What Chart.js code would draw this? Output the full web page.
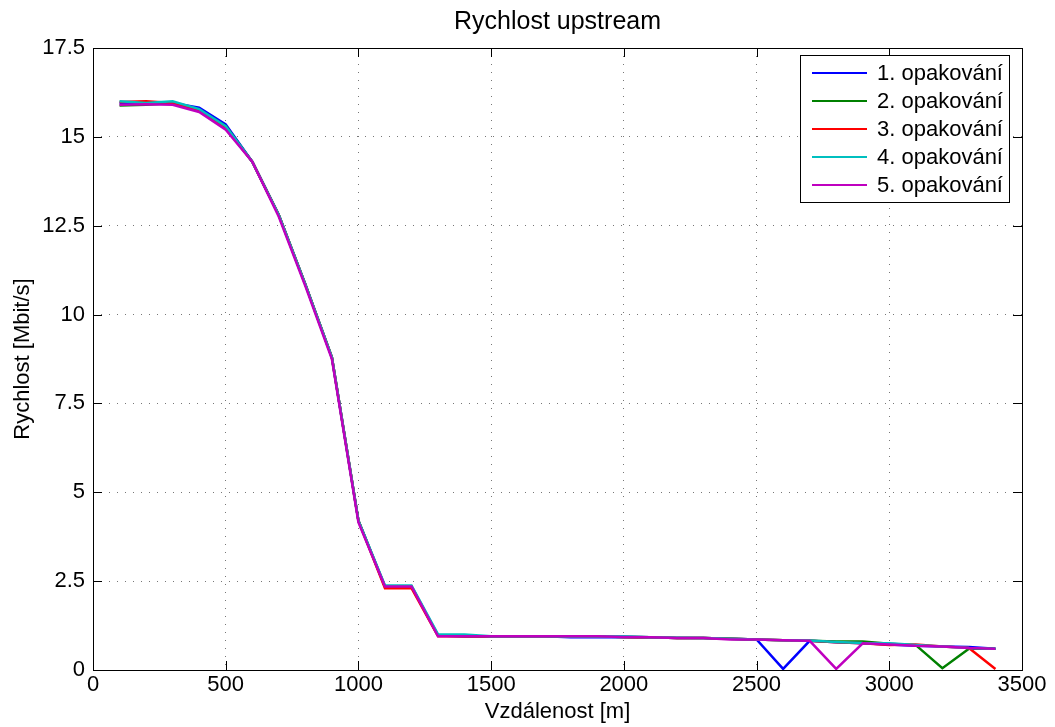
<!DOCTYPE html>
<html>
<head>
<meta charset="utf-8">
<script src="https://cdn.jsdelivr.net/npm/chart.js@4/dist/chart.umd.min.js"></script>
<style>
  html, body { margin: 0; padding: 0; background: #fff; }
  #wrap { width: 1055px; height: 727px; }
</style>
</head>
<body>
<div id="wrap"><canvas id="chart" width="1055" height="727"></canvas></div>
<script>
const distances = [100, 200, 300, 400, 500, 600, 700, 800, 900, 1000, 1100, 1200, 1300, 1400, 1500, 1600, 1700,
  1800, 1900, 2000, 2100, 2200, 2300, 2400, 2500, 2600, 2700, 2800, 2900, 3000, 3100, 3200, 3300, 3400];

const rep1 = [15.95, 15.95, 15.95, 15.82, 15.35, 14.3, 12.8, 10.85, 8.8, 4.2, 2.35, 2.35, 0.97, 0.95, 0.95, 0.95, 0.95,
  0.92, 0.92, 0.93, 0.92, 0.9, 0.9, 0.88, 0.86, 0.03, 0.82, 0.78, 0.75, 0.72, 0.68, 0.66, 0.65, 0.6];
const rep2 = [15.88, 15.9, 15.95, 15.75, 15.3, 14.3, 12.8, 10.85, 8.8, 4.2, 2.35, 2.35, 0.97, 0.95, 0.95, 0.95, 0.95,
  0.94, 0.94, 0.93, 0.92, 0.9, 0.9, 0.88, 0.86, 0.84, 0.82, 0.8, 0.8, 0.74, 0.7, 0.05, 0.6, 0.6];
const rep3 = [15.98, 16.0, 15.95, 15.72, 15.25, 14.3, 12.8, 10.85, 8.8, 4.2, 2.3, 2.3, 0.95, 0.95, 0.95, 0.95, 0.95,
  0.95, 0.95, 0.93, 0.92, 0.9, 0.9, 0.88, 0.86, 0.84, 0.82, 0.78, 0.75, 0.7, 0.72, 0.66, 0.62, 0.03];
const rep4 = [16.0, 15.95, 16.0, 15.78, 15.3, 14.3, 12.8, 10.85, 8.8, 4.2, 2.38, 2.38, 1.0, 1.0, 0.95, 0.95, 0.95,
  0.94, 0.94, 0.95, 0.92, 0.91, 0.9, 0.88, 0.86, 0.84, 0.83, 0.79, 0.76, 0.75, 0.7, 0.66, 0.62, 0.6];
const rep5 = [15.9, 15.92, 15.9, 15.7, 15.2, 14.3, 12.75, 10.8, 8.75, 4.15, 2.35, 2.35, 0.95, 0.95, 0.95, 0.95, 0.95,
  0.95, 0.95, 0.93, 0.92, 0.9, 0.9, 0.86, 0.86, 0.84, 0.82, 0.03, 0.75, 0.72, 0.68, 0.66, 0.62, 0.6];

const seriesNames = ["1. opakování", "2. opakování", "3. opakování", "4. opakování", "5. opakování"];
const seriesColors = ["#0000ff", "#008000", "#ff0000", "#00bfbf", "#bf00bf"];
const yTicks = [0, 2.5, 5, 7.5, 10, 12.5, 15, 17.5];
const chartTitle = "Rychlost upstream";

const FONT = "'Liberation Sans', Arial, Helvetica, sans-serif";

function toPoints(values) {
  return distances.map((d, i) => ({ x: d, y: values[i] }));
}

// title centred over the plot box, like MATLAB does
const axesTitle = {
  id: "axesTitle",
  afterDraw(chart) {
    const { ctx, chartArea: a } = chart;
    ctx.save();
    ctx.font = "25px " + FONT;
    ctx.fillStyle = "#000";
    ctx.textAlign = "center";
    ctx.textBaseline = "middle";
    ctx.fillText(chartTitle, (a.left + a.right) / 2, 22);
    ctx.restore();
  }
};

const boxLegend = {
  id: "boxLegend",
  afterDraw(chart) {
    const ctx = chart.ctx;
    const x0 = 800, y0 = 55, w = 209, h = 147;
    ctx.save();
    ctx.fillStyle = "#fff";
    ctx.fillRect(x0, y0, w, h);
    ctx.strokeStyle = "#000";
    ctx.lineWidth = 1;
    ctx.strokeRect(x0 + 0.5, y0 + 0.5, w, h);
    ctx.font = "22px " + FONT;
    ctx.textBaseline = "middle";
    chart.data.datasets.forEach((ds, i) => {
      const cy = y0 + 18 + i * 28;
      ctx.strokeStyle = ds.borderColor;
      ctx.lineWidth = 2;
      ctx.beginPath();
      ctx.moveTo(x0 + 12, cy);
      ctx.lineTo(x0 + 67, cy);
      ctx.stroke();
      ctx.fillStyle = "#000";
      ctx.fillText(ds.label, x0 + 77, cy + 1);
    });
    ctx.restore();
  }
};

const frame = {
  id: "frame",
  afterDatasetsDraw(chart) {
    const { ctx, chartArea: a } = chart;
    ctx.save();
    ctx.strokeStyle = "#000";
    ctx.lineWidth = 1;
    ctx.strokeRect(Math.round(a.left) + 0.5, Math.round(a.top) + 0.5, Math.round(a.right - a.left), Math.round(a.bottom - a.top));
    // inward ticks like MATLAB
    const xs = chart.scales.x, ys = chart.scales.y;
    ctx.beginPath();
    xs.ticks.forEach(t => {
      const px = Math.round(xs.getPixelForValue(t.value)) + 0.5;
      ctx.moveTo(px, a.bottom); ctx.lineTo(px, a.bottom - 9);
      ctx.moveTo(px, a.top); ctx.lineTo(px, a.top + 9);
    });
    ys.ticks.forEach(t => {
      const py = Math.round(ys.getPixelForValue(t.value)) + 0.5;
      ctx.moveTo(a.left, py); ctx.lineTo(a.left + 9, py);
      ctx.moveTo(a.right, py); ctx.lineTo(a.right - 9, py);
    });
    ctx.stroke();
    ctx.restore();
  }
};

new Chart(document.getElementById("chart"), {
  type: "line",
  data: {
    datasets: [rep1, rep2, rep3, rep4, rep5].map((vals, i) => ({
      label: seriesNames[i],
      data: toPoints(vals),
      borderColor: seriesColors[i],
      backgroundColor: seriesColors[i],
      borderWidth: 2.5,
      pointRadius: 0,
      tension: 0,
      order: 4 - i
    }))
  },
  options: {
    responsive: false,
    animation: false,
    layout: { padding: { top: 48, right: 33, bottom: 0, left: 0 } },
    plugins: {
      legend: { display: false },
      tooltip: { enabled: false },
      title: { display: false }
    },
    scales: {
      x: {
        type: "linear",
        min: 0,
        max: 3500,
        ticks: { stepSize: 500, color: "#000", font: { family: FONT, size: 22 }, maxRotation: 0, padding: 2,
          callback: v => String(v) },
        grid: { color: "#777", lineWidth: 1, tickLength: 0, drawTicks: false },
        border: { display: false, dash: [1, 7] },
        title: { display: true, text: "Vzdálenost [m]", color: "#000", font: { family: FONT, size: 22 }, padding: { top: 0, bottom: 2 } },
        afterFit(s) { s.height = 57; }
      },
      y: {
        min: 0,
        max: 17.5,
        afterBuildTicks(s) { s.ticks = yTicks.map(v => ({ value: v })); },
        ticks: { color: "#000", font: { family: FONT, size: 22 }, padding: 8, callback: v => String(v) },
        grid: { color: "#777", lineWidth: 1, tickLength: 0, drawTicks: false },
        border: { display: false, dash: [1, 7] },
        title: { display: true, text: "Rychlost [Mbit/s]", color: "#000", font: { family: FONT, size: 22 }, padding: { top: 10, bottom: 0 } },
        afterFit(s) { s.width = 93; }
      }
    }
  },
  plugins: [frame, boxLegend, axesTitle]
});
</script>
</body>
</html>
